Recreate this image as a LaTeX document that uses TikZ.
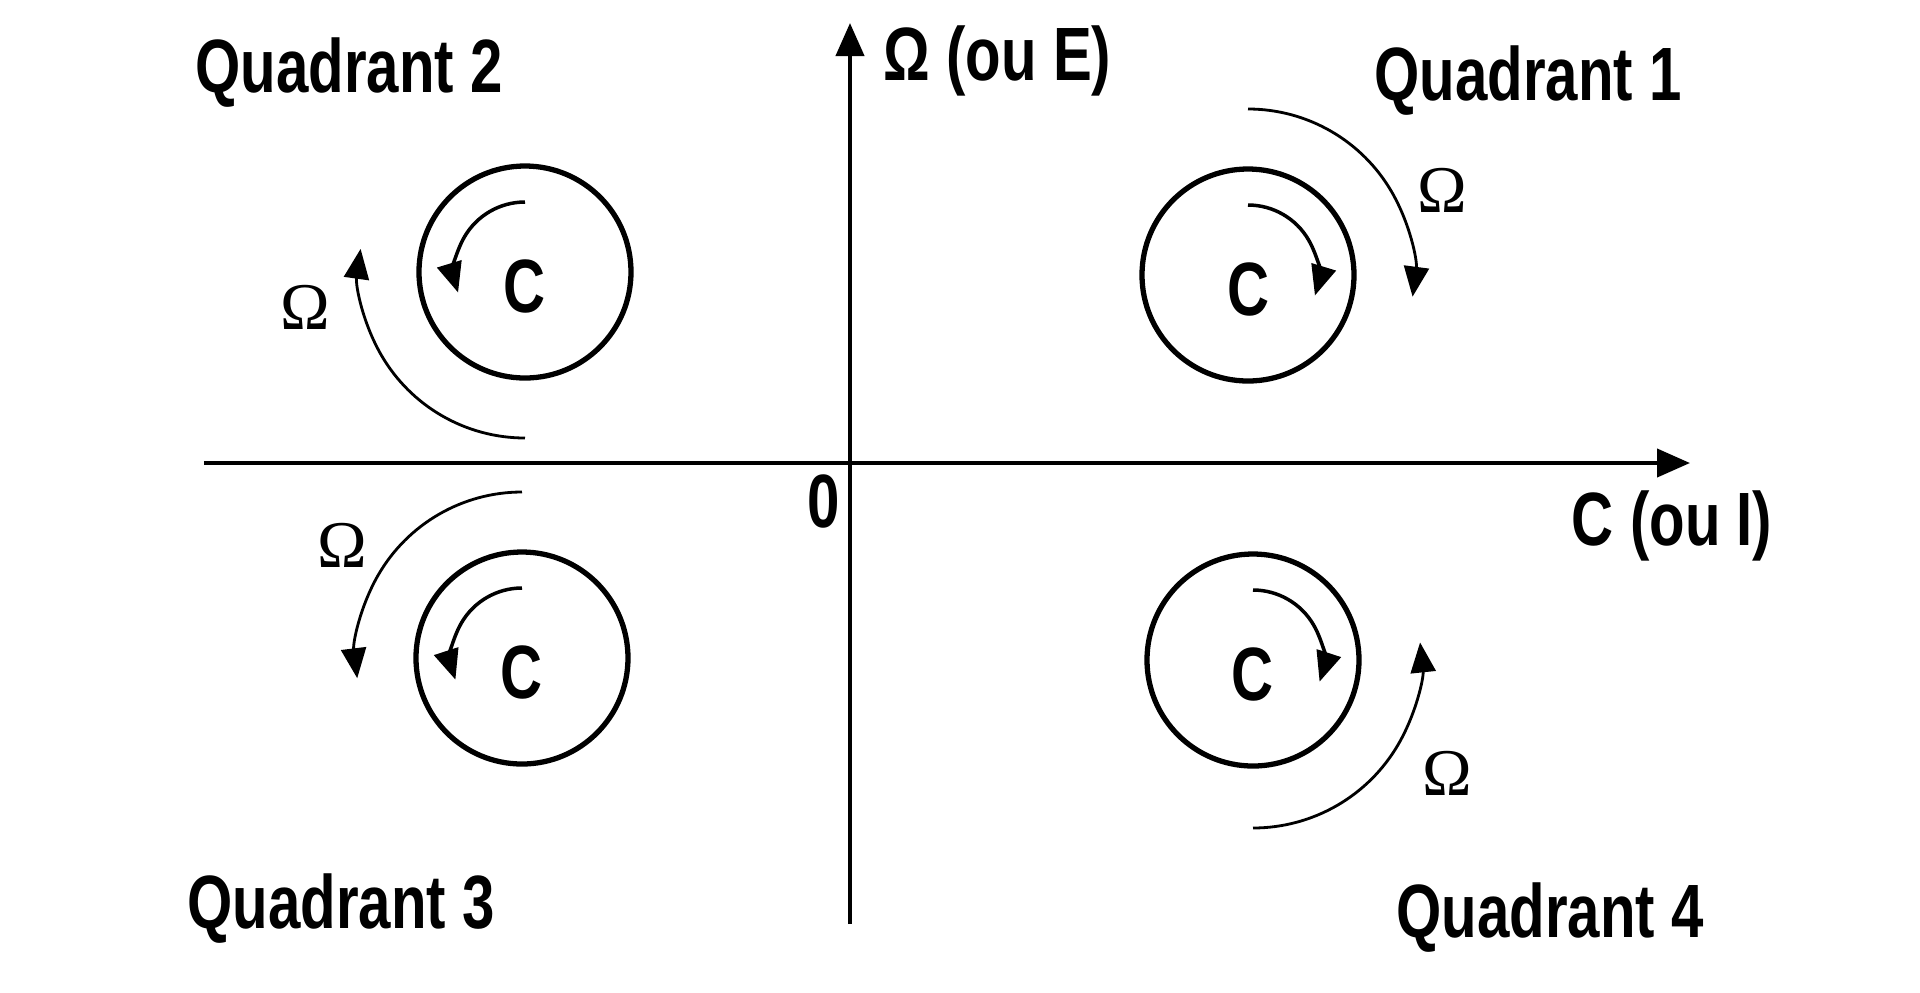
\documentclass[tikz,border=0pt]{standalone}
\usepackage{fontspec}
\setmainfont{Liberation Sans}
\newfontfamily\condfont[FakeStretch=0.77]{Liberation Sans}
\newfontfamily\omegafont{Liberation Serif}
\usetikzlibrary{arrows.meta}
\tikzset{
axis/.style={line width=1.2pt, -{Triangle[length=3.3mm, width=2.8mm]}}, % the two axes of the plane
machine/.style={circle, draw, line width=1.5pt, minimum size=2.12cm, inner sep=0pt}, % the shaft seen from its end
torque/.style={line width=1pt, -{Triangle[length=3mm, width=2.5mm]}}, % arrow inside the shaft
speed/.style={line width=0.8pt, -{Triangle[length=3mm, width=2.5mm]}}, % arrow round the shaft
lbl/.style={font=\condfont\bfseries\fontsize{21.5}{22}\selectfont, inner sep=0pt}, % condensed bold labels
omg/.style={font=\omegafont\fontsize{19}{20}\selectfont, inner sep=0pt}, % serif omega next to the arrows
}
\begin{document}
\begin{tikzpicture}
    \useasboundingbox (-8.5,-5.29) rectangle (10.7,4.63);

    % axes
    \coordinate (O) at (0,0);
    \coordinate (xl) at (-6.46,0);
    \coordinate (xr) at (8.40,0);
    \coordinate (yb) at (0,-4.61);
    \coordinate (yt) at (0,4.40);
    \draw[axis] (xl) -- (xr);
    \draw[axis] (yb) -- (yt);

    \node[lbl, anchor=base west] (ylab) at (0.33,3.83) {Ω (ou E)};
    \node[lbl, anchor=base east] (xlab) at (9.23,-0.82) {C (ou I)};
    \node[lbl, anchor=base] (zero) at (-0.26,-0.64) {0};

    \node[lbl, anchor=base] (q1) at (6.78,3.63) {Quadrant 1};
    \node[lbl, anchor=base] (q2) at (-5.01,3.71) {Quadrant 2};
    \node[lbl, anchor=base] (q3) at (-5.09,-4.65) {Quadrant 3};
    \node[lbl, anchor=base] (q4) at (7.00,-4.74) {Quadrant 4};

    % one shaft per quadrant
    \node[machine] (m1) at (3.98,1.88) {};
    \node[machine] (m2) at (-3.25,1.91) {};
    \node[machine] (m3) at (-3.28,-1.95) {};
    \node[machine] (m4) at (4.03,-1.97) {};

    \node[lbl] (c1) at ([yshift=-0.14cm]m1.center) {C};
    \node[lbl] (c2) at ([yshift=-0.14cm]m2.center) {C};
    \node[lbl] (c3) at ([yshift=-0.14cm]m3.center) {C};
    \node[lbl] (c4) at ([yshift=-0.14cm]m4.center) {C};

    % torque
    \draw[torque] ([shift={(90:0.7)}]m1.center) arc[start angle=90, end angle=-17, radius=0.7];
    \draw[torque] ([shift={(90:0.7)}]m2.center) arc[start angle=90, end angle=197, radius=0.7];
    \draw[torque] ([shift={(90:0.7)}]m3.center) arc[start angle=90, end angle=198, radius=0.7];
    \draw[torque] ([shift={(90:0.7)}]m4.center) arc[start angle=90, end angle=-18, radius=0.7];

    % speed
    \draw[speed] ([shift={(90:1.66)}]m1.center) arc[start angle=90, end angle=-7.5, radius=1.66];
    \draw[speed] ([shift={(270:1.66)}]m2.center) arc[start angle=270, end angle=172, radius=1.66];
    \draw[speed] ([shift={(90:1.66)}]m3.center) arc[start angle=90, end angle=187, radius=1.66];
    \draw[speed] ([shift={(270:1.68)}]m4.center) arc[start angle=270, end angle=366, radius=1.68];

    \node[omg] (w1) at (5.92,2.73) {Ω};
    \node[omg] (w2) at (-5.45,1.56) {Ω};
    \node[omg] (w3) at (-5.08,-0.82) {Ω};
    \node[omg] (w4) at (5.97,-3.10) {Ω};
\end{tikzpicture}
\end{document}
